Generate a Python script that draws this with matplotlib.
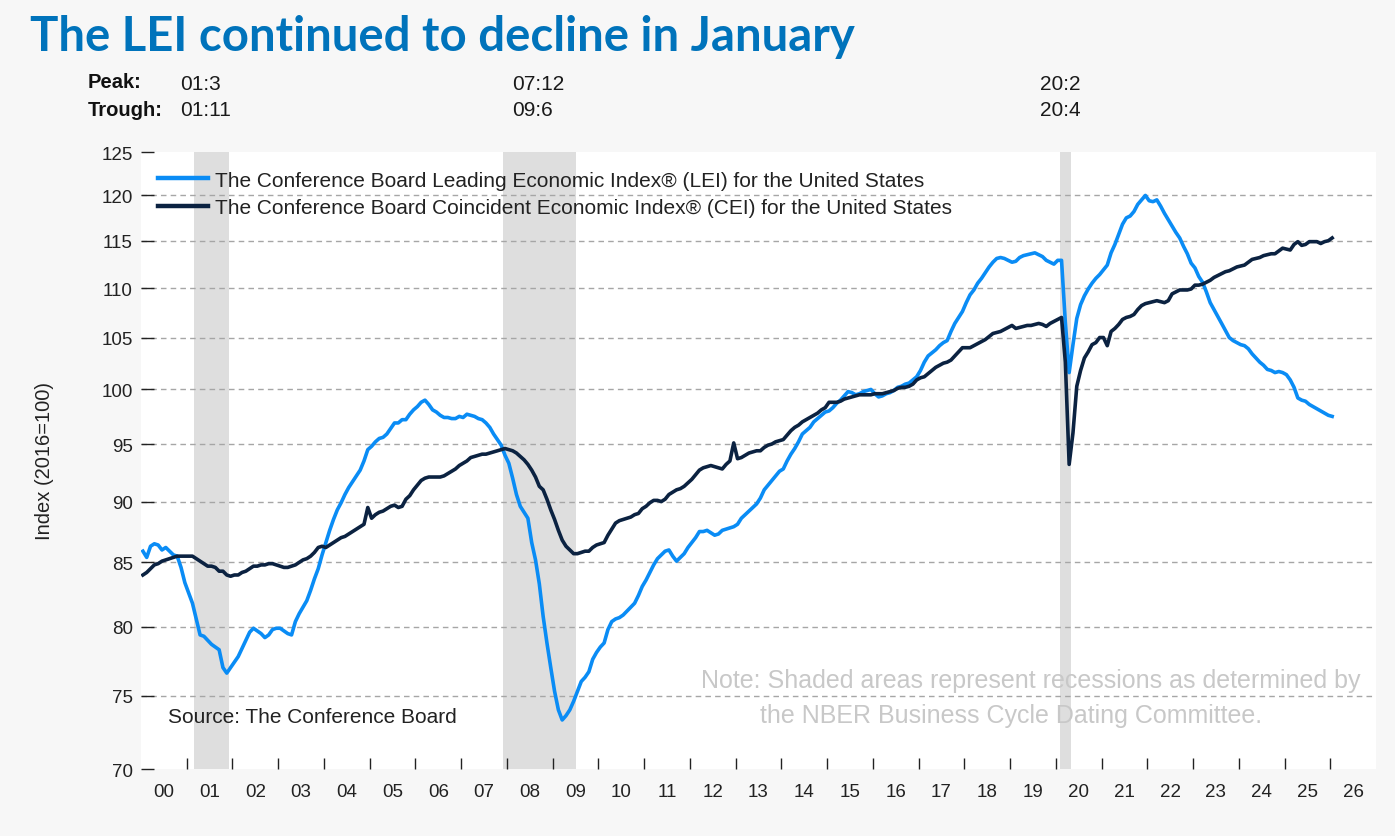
import matplotlib
matplotlib.use("Agg")
import matplotlib.pyplot as plt
import matplotlib.ticker as mticker
import numpy as np

# ---------------- data (monthly, Jan 2000 - Jan 2026) ----------------
years = list(range(2000, 2026))

lei_by_year = {
    2000: [85.9, 85.4, 86.3, 86.5, 86.4, 86.0, 86.2, 85.9, 85.6, 85.5, 84.6, 83.4],
    2001: [82.6, 81.8, 80.6, 79.4, 79.3, 79.0, 78.7, 78.5, 78.3, 77.0, 76.6, 77.0],
    2002: [77.4, 77.8, 78.4, 79.0, 79.6, 79.9, 79.7, 79.5, 79.2, 79.4, 79.8, 79.9],
    2003: [79.9, 79.7, 79.5, 79.4, 80.4, 81.0, 81.5, 82.0, 82.8, 83.7, 84.5, 85.6],
    2004: [86.6, 87.6, 88.5, 89.3, 89.9, 90.6, 91.2, 91.7, 92.2, 92.7, 93.5, 94.5],
    2005: [94.8, 95.2, 95.5, 95.6, 95.9, 96.4, 96.9, 96.9, 97.2, 97.2, 97.7, 98.1],
    2006: [98.4, 98.8, 99.0, 98.6, 98.1, 97.9, 97.6, 97.4, 97.4, 97.3, 97.3, 97.5],
    2007: [97.4, 97.7, 97.6, 97.5, 97.3, 97.2, 96.9, 96.5, 95.9, 95.4, 94.9, 94.0],
    2008: [93.3, 92.0, 90.6, 89.6, 89.1, 88.6, 86.6, 85.2, 83.3, 80.8, 78.8, 77.0],
    2009: [75.3, 74.0, 73.3, 73.6, 74.0, 74.6, 75.3, 76.0, 76.3, 76.7, 77.6, 78.1],
    2010: [78.5, 78.8, 79.8, 80.4, 80.6, 80.7, 80.9, 81.2, 81.5, 81.8, 82.4, 83.1],
    2011: [83.6, 84.2, 84.8, 85.3, 85.6, 85.9, 86.0, 85.5, 85.1, 85.4, 85.7, 86.2],
    2012: [86.6, 87.0, 87.5, 87.5, 87.6, 87.4, 87.2, 87.3, 87.6, 87.7, 87.8, 87.9],
    2013: [88.1, 88.6, 88.9, 89.2, 89.5, 89.8, 90.3, 91.0, 91.4, 91.8, 92.2, 92.6],
    2014: [92.8, 93.5, 94.1, 94.6, 95.2, 95.9, 96.2, 96.5, 97.0, 97.3, 97.6, 97.9],
    2015: [98.0, 98.3, 98.7, 99.0, 99.4, 99.8, 99.7, 99.5, 99.6, 99.8, 99.9, 100.0],
    2016: [99.6, 99.3, 99.4, 99.6, 99.7, 99.9, 100.2, 100.3, 100.5, 100.6, 100.9, 101.2],
    2017: [101.8, 102.6, 103.2, 103.5, 103.8, 104.2, 104.5, 104.7, 105.6, 106.4, 107.0, 107.6],
    2018: [108.5, 109.3, 109.8, 110.5, 111.0, 111.6, 112.2, 112.7, 113.1, 113.2, 113.1, 112.9],
    2019: [112.7, 112.8, 113.2, 113.4, 113.5, 113.6, 113.7, 113.5, 113.3, 112.9, 112.7, 112.5],
    2020: [112.9, 112.9, 106.5, 101.6, 104.3, 106.9, 108.3, 109.2, 109.9, 110.5, 111.0, 111.4],
    2021: [111.9, 112.4, 113.7, 114.6, 115.7, 116.8, 117.5, 117.7, 118.2, 119.0, 119.5, 120.0],
    2022: [119.4, 119.3, 119.5, 118.8, 118.0, 117.3, 116.6, 115.9, 115.3, 114.4, 113.6, 112.6],
    2023: [112.1, 111.2, 110.6, 109.6, 108.5, 107.8, 107.1, 106.4, 105.7, 105.0, 104.7, 104.5],
    2024: [104.3, 104.2, 103.9, 103.4, 103.0, 102.6, 102.3, 101.9, 101.8, 101.6, 101.7, 101.6],
    2025: [101.4, 100.9, 100.2, 99.2, 99.0, 98.9, 98.6, 98.4, 98.2, 98.0, 97.8, 97.6],
}
lei_2026 = [97.5]

cei_by_year = {
    2000: [84.0, 84.2, 84.5, 84.8, 84.9, 85.1, 85.2, 85.3, 85.4, 85.5, 85.5, 85.5],
    2001: [85.5, 85.5, 85.3, 85.1, 84.9, 84.7, 84.7, 84.6, 84.3, 84.3, 84.0, 83.9],
    2002: [84.0, 84.0, 84.2, 84.3, 84.5, 84.7, 84.7, 84.8, 84.8, 84.9, 84.9, 84.8],
    2003: [84.7, 84.6, 84.6, 84.7, 84.8, 85.0, 85.2, 85.3, 85.5, 85.8, 86.2, 86.3],
    2004: [86.2, 86.4, 86.6, 86.8, 87.0, 87.1, 87.3, 87.5, 87.7, 87.9, 88.1, 89.5],
    2005: [88.6, 88.9, 89.1, 89.2, 89.4, 89.6, 89.7, 89.5, 89.6, 90.2, 90.5, 91.0],
    2006: [91.4, 91.8, 92.0, 92.1, 92.1, 92.1, 92.1, 92.2, 92.4, 92.6, 92.8, 93.1],
    2007: [93.3, 93.5, 93.8, 93.9, 94.0, 94.1, 94.1, 94.2, 94.3, 94.4, 94.5, 94.6],
    2008: [94.5, 94.4, 94.2, 93.9, 93.6, 93.2, 92.7, 92.1, 91.3, 91.0, 90.2, 89.3],
    2009: [88.5, 87.6, 86.8, 86.3, 86.0, 85.7, 85.7, 85.8, 85.9, 85.9, 86.2, 86.4],
    2010: [86.5, 86.6, 87.2, 87.7, 88.2, 88.4, 88.5, 88.6, 88.7, 88.9, 89.0, 89.4],
    2011: [89.6, 89.9, 90.1, 90.1, 90.0, 90.2, 90.6, 90.8, 91.0, 91.1, 91.3, 91.6],
    2012: [91.9, 92.3, 92.7, 92.9, 93.0, 93.1, 93.0, 92.9, 92.8, 93.2, 93.5, 95.1],
    2013: [93.7, 93.8, 94.0, 94.2, 94.3, 94.4, 94.4, 94.7, 94.9, 95.0, 95.2, 95.3],
    2014: [95.4, 95.8, 96.2, 96.5, 96.7, 97.0, 97.2, 97.4, 97.6, 97.8, 98.1, 98.3],
    2015: [98.8, 98.8, 98.8, 98.9, 99.1, 99.2, 99.3, 99.4, 99.5, 99.5, 99.5, 99.5],
    2016: [99.6, 99.6, 99.6, 99.7, 99.8, 99.9, 100.1, 100.2, 100.2, 100.3, 100.5, 100.9],
    2017: [101.1, 101.2, 101.5, 101.8, 102.1, 102.3, 102.5, 102.6, 102.8, 103.2, 103.6, 104.0],
    2018: [104.0, 104.0, 104.2, 104.4, 104.6, 104.8, 105.1, 105.4, 105.5, 105.6, 105.8, 106.0],
    2019: [106.2, 105.9, 106.0, 106.1, 106.2, 106.2, 106.3, 106.4, 106.3, 106.1, 106.4, 106.6],
    2020: [106.8, 107.0, 102.6, 93.2, 96.0, 100.3, 101.8, 103.0, 103.6, 104.3, 104.5, 105.0],
    2021: [105.0, 104.2, 105.6, 105.9, 106.3, 106.8, 107.0, 107.1, 107.3, 107.8, 108.2, 108.4],
    2022: [108.5, 108.6, 108.7, 108.6, 108.5, 108.7, 109.4, 109.6, 109.8, 109.8, 109.8, 109.9],
    2023: [110.3, 110.3, 110.4, 110.6, 110.8, 111.1, 111.3, 111.5, 111.7, 111.8, 112.0, 112.2],
    2024: [112.3, 112.4, 112.7, 113.0, 113.1, 113.2, 113.4, 113.5, 113.6, 113.6, 113.9, 114.2],
    2025: [114.1, 114.0, 114.6, 114.9, 114.5, 114.6, 114.9, 114.9, 114.9, 114.7, 114.9, 115.0],
}
cei_2026 = [115.3]

# recessions (peak, trough) as (year, month)
recession_peaks = [(2001, 3), (2007, 12), (2020, 2)]
recession_troughs = [(2001, 11), (2009, 6), (2020, 4)]
peak_labels = ["01:3", "07:12", "20:2"]
trough_labels = ["01:11", "09:6", "20:4"]

y_ticks = [70, 75, 80, 85, 90, 95, 100, 105, 110, 115, 120, 125]
x_labels = ["%02d" % (y % 100) for y in range(2000, 2027)]

title = "The LEI continued to decline in January"
lei_name = "The Conference Board Leading Economic Index\u00ae (LEI) for the United States"
cei_name = "The Conference Board Coincident Economic Index\u00ae (CEI) for the United States"

# ---------------- build series ----------------
lei = [v for y in years for v in lei_by_year[y]] + lei_2026
cei = [v for y in years for v in cei_by_year[y]] + cei_2026
n = len(lei)
t = 2000 + (np.arange(n) + 0.5) / 12.0

# ---------------- figure ----------------
W, H = 1395, 837
BG = "#f7f7f7"
TXT = "#222222"
plt.rcParams["font.family"] = ["Liberation Sans", "DejaVu Sans"]
fig = plt.figure(figsize=(W / 100, H / 100), dpi=100, facecolor=BG)


def fx(px):
    return px / W


def fy(py):
    return 1 - py / H


ax_l, ax_r, ax_t, ax_b = 141, 1376, 153, 770
ax = fig.add_axes([fx(ax_l), fy(ax_b), fx(ax_r - ax_l), (ax_b - ax_t) / H])
ax.set_facecolor("white")
for s in ax.spines.values():
    s.set_visible(False)

ax.set_yscale("log")
ax.set_ylim(70, 125)
ax.set_xlim(2000, 2027)

# recession shading
for (py, pm), (ty, tm) in zip(recession_peaks, recession_troughs):
    ax.axvspan(py + (pm - 1) / 12.0, ty + tm / 12.0, color="#dedede", lw=0, zorder=0)

# grid
for v in y_ticks[1:-1]:
    ax.axhline(v, color="#a6a6a6", lw=1.0, ls=(0, (4, 3)), zorder=1)

ax.plot(t, lei, color="#0a8cf5", lw=2.6, zorder=3, label=lei_name, solid_joinstyle="round")
ax.plot(t, cei, color="#0b2241", lw=2.6, zorder=4, label=cei_name, solid_joinstyle="round")

# y axis
ax.yaxis.set_major_locator(mticker.FixedLocator(y_ticks))
ax.yaxis.set_major_formatter(mticker.FixedFormatter([str(v) for v in y_ticks]))
ax.yaxis.set_minor_locator(mticker.NullLocator())
ax.tick_params(axis="y", direction="in", length=9, width=1, color=TXT,
               labelsize=13.5, labelcolor=TXT, pad=6)

# x axis: ticks at year boundaries, labels at mid-year
ax.xaxis.set_major_locator(mticker.FixedLocator(np.arange(2001, 2027)))
ax.xaxis.set_major_formatter(mticker.NullFormatter())
ax.xaxis.set_minor_locator(mticker.FixedLocator(np.arange(2000, 2027) + 0.5))
ax.xaxis.set_minor_formatter(mticker.FixedFormatter(x_labels))
ax.tick_params(axis="x", which="major", direction="in", length=8, width=1, color=TXT)
ax.tick_params(axis="x", which="minor", length=0, labelsize=13.5, labelcolor=TXT, pad=10)

ax.set_ylabel("Index (2016=100)", fontsize=14.5, color=TXT, labelpad=34)

leg = ax.legend(loc="upper left", bbox_to_anchor=(0.0, 0.997), frameon=False,
                fontsize=15, handlelength=2.4, handletextpad=0.35, labelspacing=0.4,
                borderaxespad=0.4)
for line in leg.get_lines():
    line.set_linewidth(3.2)
for txt in leg.get_texts():
    txt.set_color(TXT)

# texts
fig.text(fx(30), fy(37), title, fontsize=34, fontweight="bold", color="#0073bb",
         family=["Lato", "DejaVu Sans"], va="center", ha="left")
fig.text(fx(88), fy(82), "Peak:", fontsize=14.5, fontweight="bold", color="#111111", va="center")
fig.text(fx(88), fy(111), "Trough:", fontsize=14.5, fontweight="bold", color="#111111", va="center")
for xp, pl, tl in zip([180, 512, 1040], peak_labels, trough_labels):
    fig.text(fx(xp), fy(85), pl, fontsize=15, color="#1a1a1a", va="center")
    fig.text(fx(xp), fy(111), tl, fontsize=15, color="#1a1a1a", va="center")

fig.text(fx(168), fy(718), "Source: The Conference Board", fontsize=15, color=TXT, va="center")
fig.text(fx(1031), fy(681), "Note: Shaded areas represent recessions as determined by",
         fontsize=18, color="#c8c8c8", va="center", ha="center")
fig.text(fx(1011), fy(716), "the NBER Business Cycle Dating Committee.",
         fontsize=18, color="#c8c8c8", va="center", ha="center")

fig.savefig("out.png", dpi=100, facecolor=BG)
